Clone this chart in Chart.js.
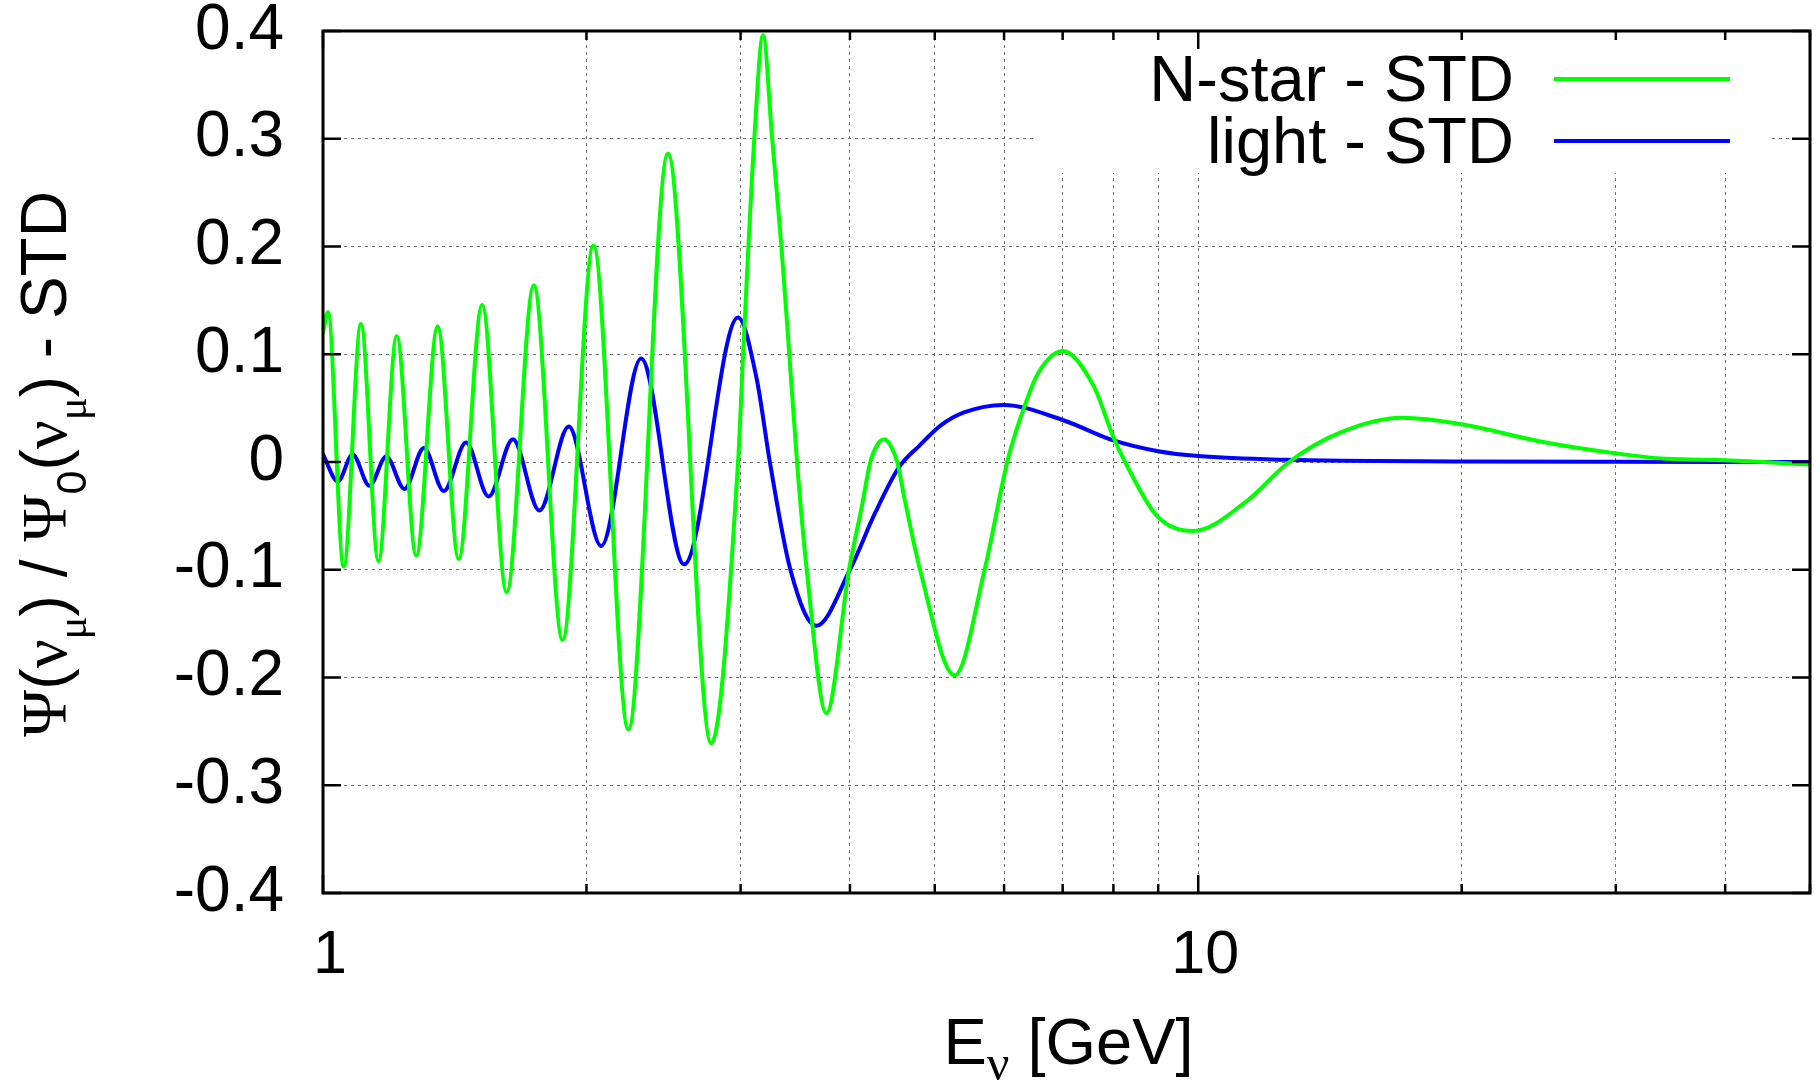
<!DOCTYPE html>
<html>
<head>
<meta charset="utf-8">
<script src="https://cdn.jsdelivr.net/npm/chart.js@4/dist/chart.umd.min.js"></script>
<style>
  html, body { margin: 0; padding: 0; background: #fff; overflow: hidden; }
  #wrap { width: 1816px; height: 1082px; position: relative; }
</style>
</head>
<body>
<div id="wrap"><canvas id="c" width="1816" height="1082"></canvas></div>
<script>
// Energy grid points (GeV) and flux-ratio differences for each model
const nstarE = [1.000, 1.013, 1.056, 1.105, 1.157, 1.214, 1.278, 1.352, 1.429, 1.520,
                1.621, 1.741, 1.878, 2.037, 2.233, 2.478, 2.777, 2.98, 3.02, 3.11,
                3.182, 3.26, 3.34, 3.41, 3.48, 3.57, 3.76, 3.99, 4.13, 4.22,
                4.30, 4.38, 4.46, 4.53, 4.62, 4.81, 5.27, 5.70, 6.05, 6.20,
                6.34, 6.52, 6.75, 7.00, 7.60, 8.00, 8.25, 8.97, 9.87, 11.37,
                12.7, 14.5, 17.1, 20.0, 24.6, 30.0, 34.2, 40.0, 50.0];
const nstarV = [0.120, 0.139, -0.097, 0.128, -0.092, 0.117, -0.087, 0.126, -0.090, 0.146,
                -0.121, 0.164, -0.165, 0.201, -0.248, 0.286, -0.261, 0.000, 0.100, 0.300,
                0.396, 0.300, 0.200, 0.100, 0.000, -0.100, -0.233, -0.100, -0.040, 0.000,
                0.016, 0.021, 0.014, 0.000, -0.035, -0.100, -0.198, -0.100, 0.000, 0.030,
                0.053, 0.078, 0.096, 0.103, 0.070, 0.023, 0.000, -0.050, -0.064, -0.036,
                0.000, 0.027, 0.041, 0.035, 0.019, 0.008, 0.003, 0.0017, -0.0023];

const lightE = [1.000, 1.040, 1.081, 1.130, 1.181, 1.239, 1.304, 1.374, 1.457, 1.546,
                1.648, 1.767, 1.909, 2.079, 2.309, 2.586, 2.980, 3.13, 3.24, 3.42,
                3.66, 4.00, 4.27, 4.55, 4.80, 5.08, 5.40, 5.99, 7.00, 8.00,
                9.00, 10.0, 12.6, 20.0, 30.0, 50.0];
const lightV = [0.007, -0.018, 0.007, -0.022, 0.005, -0.025, 0.013, -0.027, 0.018, -0.032,
                0.021, -0.045, 0.033, -0.078, 0.096, -0.095, 0.134, 0.077, 0.000, -0.100,
                -0.152, -0.100, -0.048, -0.005, 0.015, 0.034, 0.046, 0.053, 0.039, 0.020,
                0.010, 0.0055, 0.002, 0.0005, 0.0002, 0.000];

const seriesNames  = ['N-star - STD', 'light - STD'];
const seriesColors = ['#00ff00', '#0000ff'];

const xTickValues = [1, 2, 3, 4, 5, 6, 7, 8, 9, 10, 20, 30, 40, 50];
const xTickLabels = ['1', '', '', '', '', '', '', '', '', '10', '', '', '', ''];
const yTickValues = [-0.4, -0.3, -0.2, -0.1, 0, 0.1, 0.2, 0.3, 0.4];
const yTickLabels = ['-0.4', '-0.3', '-0.2', '-0.1', '0', '0.1', '0.2', '0.3', '0.4'];

const SANS = '"Liberation Sans", Arial, sans-serif';
const SERIF = '"Liberation Serif", "DejaVu Serif", serif';

function pairs(xs, ys) { return xs.map((x, i) => ({ x: x, y: ys[i] })); }

// Draw a run of text pieces (with sub-scripts) along a baseline, centred on 0
function drawRich(ctx, pieces) {
  let w = 0;
  pieces.forEach(p => { ctx.font = p.font; p.w = ctx.measureText(p.t).width; w += p.w; });
  let cx = -w / 2;
  ctx.textAlign = 'left';
  ctx.textBaseline = 'alphabetic';
  pieces.forEach(p => {
    ctx.font = p.font;
    ctx.fillText(p.t, cx, p.dy || 0);
    cx += p.w;
  });
}

const frameAndKey = {
  id: 'frameAndKey',
  beforeDatasetsDraw(chart) {
    // opaque key box over the grid
    const { ctx, chartArea: a } = chart;
    ctx.save();
    ctx.fillStyle = '#ffffff';
    ctx.fillRect(a.right - 777, a.top, 738, 142);
    ctx.restore();
  },
  afterDatasetsDraw(chart) {
    const { ctx, chartArea: a, scales } = chart;
    const x = scales.x, y = scales.y;
    ctx.save();
    ctx.strokeStyle = '#000';
    ctx.lineWidth = 2.5;
    ctx.beginPath();
    yTickValues.forEach(v => {
      const py = y.getPixelForValue(v);
      ctx.moveTo(a.left, py); ctx.lineTo(a.left + 18, py);
      ctx.moveTo(a.right, py); ctx.lineTo(a.right - 18, py);
    });
    xTickValues.forEach(v => {
      const px = x.getPixelForValue(v);
      const len = (v === 1 || v === 10) ? 18 : 9;
      ctx.moveTo(px, a.bottom); ctx.lineTo(px, a.bottom - len);
      ctx.moveTo(px, a.top); ctx.lineTo(px, a.top + len);
    });
    ctx.stroke();
    ctx.lineWidth = 3;
    ctx.strokeRect(a.left, a.top, a.right - a.left, a.bottom - a.top);

    // key entries
    ctx.font = '65px ' + SANS;
    ctx.textAlign = 'right';
    ctx.textBaseline = 'alphabetic';
    ctx.fillStyle = '#000';
    chart.data.datasets.forEach((ds, i) => {
      const rowY = a.top + 48 + i * 62;
      ctx.fillText(ds.label, a.right - 296, rowY + 22);
      ctx.strokeStyle = ds.borderColor;
      ctx.lineWidth = 4;
      ctx.beginPath();
      ctx.moveTo(a.right - 256, rowY);
      ctx.lineTo(a.right - 80, rowY);
      ctx.stroke();
    });
    ctx.restore();
  },
  afterDraw(chart) {
    const { ctx, chartArea: a } = chart;
    ctx.save();
    ctx.fillStyle = '#000';
    // x axis title
    ctx.translate((a.left + a.right) / 2 + 2, 1064);
    drawRich(ctx, [
      { t: 'E', font: '65px ' + SANS },
      { t: 'ν', font: '50px ' + SERIF, dy: 16 },
      { t: ' [GeV]', font: '65px ' + SANS }
    ]);
    ctx.restore();

    // y axis title, reading bottom to top
    ctx.save();
    ctx.fillStyle = '#000';
    ctx.translate(66, (a.top + a.bottom) / 2 + 2);
    ctx.rotate(-Math.PI / 2);
    const main = '64px ' + SANS, greek = '64px ' + SERIF, sub = '43px ' + SERIF, subN = '43px ' + SANS;
    drawRich(ctx, [
      { t: 'Ψ', font: greek },
      { t: '(', font: main },
      { t: 'ν', font: greek },
      { t: 'μ', font: sub, dy: 20 },
      { t: ')', font: main },
      { t: ' / ', font: main },
      { t: 'Ψ', font: greek },
      { t: '0', font: subN, dy: 20 },
      { t: '(', font: main },
      { t: 'ν', font: greek },
      { t: 'μ', font: sub, dy: 20 },
      { t: ')', font: main },
      { t: ' - STD', font: main }
    ]);
    ctx.restore();
  }
};

const ctx = document.getElementById('c').getContext('2d');
new Chart(ctx, {
  type: 'line',
  data: {
    datasets: [
      {
        label: seriesNames[0],
        data: pairs(nstarE, nstarV),
        borderColor: seriesColors[0],
        borderWidth: 4,
        pointRadius: 0,
        fill: false,
        cubicInterpolationMode: 'monotone',
        borderJoinStyle: 'round',
        borderCapStyle: 'round'
      },
      {
        label: seriesNames[1],
        data: pairs(lightE, lightV),
        borderColor: seriesColors[1],
        borderWidth: 4,
        pointRadius: 0,
        fill: false,
        cubicInterpolationMode: 'monotone',
        borderJoinStyle: 'round',
        borderCapStyle: 'round'
      }
    ]
  },
  options: {
    responsive: false,
    animation: false,
    devicePixelRatio: 1,
    layout: { padding: { top: 31, right: 6, left: 0, bottom: 0 } },
    plugins: { legend: { display: false }, tooltip: { enabled: false } },
    scales: {
      x: {
        type: 'logarithmic',
        min: 1,
        max: 50,
        afterBuildTicks(s) { s.ticks = xTickValues.map(v => ({ value: v })); },
        afterFit(s) { s.height = 189; s.paddingLeft = 0; s.paddingRight = 0; },
        ticks: {
          autoSkip: false,
          maxRotation: 0,
          padding: 27,
          labelOffset: 7,
          color: '#000',
          font: { family: SANS, size: 61 },
          callback(v) { const i = xTickValues.indexOf(v); return i >= 0 ? xTickLabels[i] : ''; }
        },
        grid: { color: '#707070', lineWidth: 1, drawTicks: false },
        border: { display: false, dash: [3, 4] }
      },
      y: {
        type: 'linear',
        min: -0.4,
        max: 0.4,
        afterBuildTicks(s) { s.ticks = yTickValues.map(v => ({ value: v })); },
        afterFit(s) { s.width = 323; s.paddingTop = 0; s.paddingBottom = 0; },
        ticks: {
          padding: 39,
          color: '#000',
          font: { family: SANS, size: 64, lineHeight: 1 },
          callback(v, i) { return yTickLabels[i]; }
        },
        grid: { color: '#707070', lineWidth: 1, drawTicks: false },
        border: { display: false, dash: [3, 4] }
      }
    }
  },
  plugins: [frameAndKey]
});
</script>
</body>
</html>
